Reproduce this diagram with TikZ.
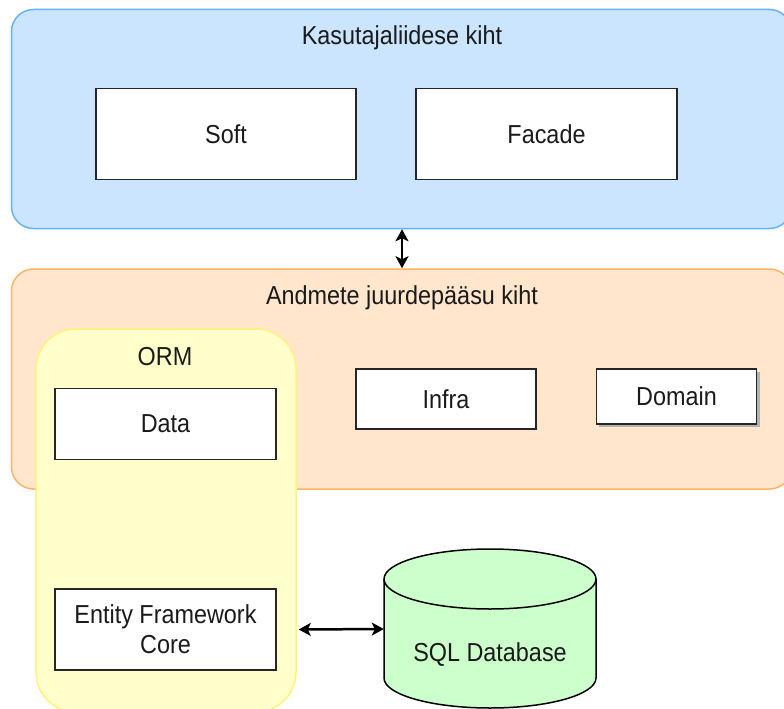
\documentclass[tikz,border=0pt]{standalone}
\usepackage{fontspec}
\setmainfont{Liberation Sans}[FakeStretch=0.9]
\usetikzlibrary{arrows.meta}
\definecolor{bluefill}{HTML}{CCE5FF}
\definecolor{bluedraw}{HTML}{66B2FF}
\definecolor{orfill}{HTML}{FFE6CC}
\definecolor{ordraw}{HTML}{FFB366}
\definecolor{yelfill}{HTML}{FFFFCC}
\definecolor{yeldraw}{HTML}{FFF37A}
\definecolor{grfill}{HTML}{CCFFCC}
\definecolor{txt}{HTML}{1A1A1A}
\tikzset{
  container/.style={rounded corners=22pt, line width=1.5pt},
  box/.style={draw=black!85, fill=white, line width=1.5pt, inner sep=0pt, text=txt, align=center},
  lbl/.style={text=txt, inner sep=0pt},
  biarrow/.style={line width=2.5pt, {Stealth[length=12pt,width=13pt,inset=3pt]}-{Stealth[length=12pt,width=13pt,inset=3pt]}},
}
\begin{document}
\begin{tikzpicture}[x=1pt,y=-1pt,font=\fontsize{26}{30}\selectfont]
\useasboundingbox (0,0) rectangle (784,709);
\clip (0,0) rectangle (784,709);
% containers
\node[container, draw=bluedraw, fill=bluefill, minimum width=780pt, minimum height=219pt, inner sep=0pt] (ui) at (401.5,119) {};
\node[lbl] (uititle) at (402,38) {Kasutajaliidese kiht};
\node[container, draw=ordraw, fill=orfill, minimum width=780pt, minimum height=220pt, inner sep=0pt] (dal) at (401.5,379) {};
\node[lbl] (daltitle) at (402,298) {Andmete juurdepääsu kiht};
\node[draw=yeldraw, fill=yelfill, line width=1.5pt, rounded corners=40pt, minimum width=260pt, minimum height=383pt, inner sep=0pt] (orm) at (166,520.5) {};
\node[lbl] (ormtitle) at (165,357) {ORM};
% boxes
\node[box, minimum width=260pt, minimum height=91pt] (soft) at (226,134) {Soft};
\node[box, minimum width=261pt, minimum height=91pt] (facade) at (546.5,134) {Facade};
\node[box, minimum width=221pt, minimum height=71pt] (data) at (165.5,424) {Data};
\node[box, minimum width=180pt, minimum height=60pt] (infra) at (446,399) {Infra};
\fill[gray!60] (599,372) rectangle (760,427);
\node[box, minimum width=160pt, minimum height=55pt] (domain) at (676.5,396.5) {Domain};
\node[box, minimum width=221pt, minimum height=81pt] (ef) at (165.5,629.5) {Entity Framework\\Core};
% cylinder
\filldraw[fill=grfill, draw=black, line width=1.5pt]
  (384,579) -- (384,678) arc[start angle=180, end angle=360, x radius=106pt, y radius=30pt]
  -- (596,579) arc[start angle=0, end angle=180, x radius=106pt, y radius=30pt] -- cycle;
\draw[line width=1.5pt] (384,579) arc[start angle=180, end angle=360, x radius=106pt, y radius=30pt];
\node[inner sep=0pt, minimum width=212pt, minimum height=100pt] (db) at (490,629) {};
\node[lbl] (dbtext) at (490,655) {SQL Database};
% connectors
\draw[biarrow] (ui.south -| uititle) -- (dal.north -| uititle);
\draw[biarrow] ([xshift=2pt]orm.east |- ef.east) -- (db.west);
\end{tikzpicture}
\end{document}
